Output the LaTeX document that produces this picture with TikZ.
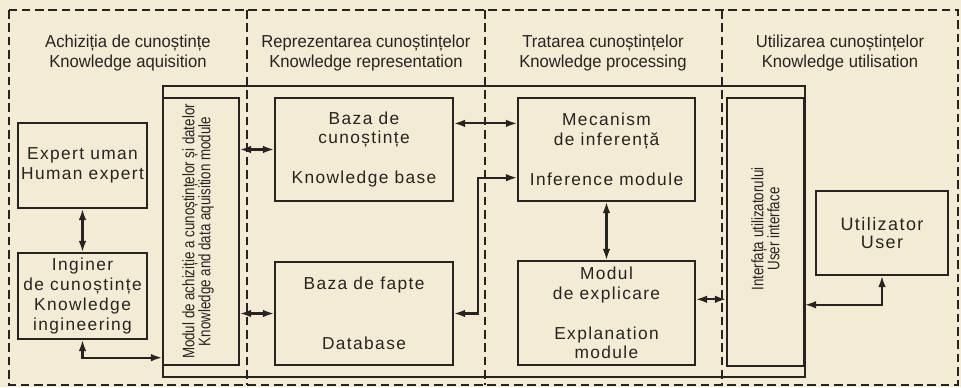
\documentclass[tikz,border=0pt]{standalone}
\usepackage{fontspec}
\setmainfont{Liberation Sans}
\newfontfamily\headfont[FakeStretch=0.96]{Liberation Sans}
\newfontfamily\boxfont[LetterSpace=8]{Liberation Sans}
\newfontfamily\vertfont[FakeStretch=0.8]{Liberation Sans}
\usetikzlibrary{arrows.meta,calc,positioning}
\definecolor{PaperCream}{HTML}{F4EBD5}
\definecolor{InkGrey}{HTML}{262422}
\begin{document}
\begin{tikzpicture}[x=0.75pt, y=-0.75pt, line join=miter,
  blok/.style={draw=InkGrey, line width=1.1pt, inner sep=0pt, align=center, text=InkGrey,
    font=\boxfont\fontsize{13}{14.8}\selectfont},
  heading/.style={align=center, text=InkGrey, font=\headfont\fontsize{13}{15}\selectfont},
  vlabel/.style={rotate=90, align=center, text=InkGrey, font=\vertfont\fontsize{12.5}{12}\selectfont},
  dbl/.style={{Latex[length=3mm,width=2mm]}-{Latex[length=3mm,width=2mm]}, line width=1.6pt, draw=InkGrey},
  divider/.style={draw=InkGrey, line width=0.9pt, dash pattern=on 6.5pt off 3.5pt}]
\fill[PaperCream] (0,0) rectangle (961,387);
\useasboundingbox (0,0) rectangle (961,387);
\draw[divider] (9,10) rectangle (958,385);
\draw[divider] (247,10) -- (247,385);
\draw[divider] (485,10) -- (485,385);
\draw[divider] (722,10) -- (722,385);
\node[heading] (h1) at (128,53) {Achiziția de cunoștințe\\Knowledge aquisition};
\node[heading] (h2) at (366,53) {Reprezentarea cunoștințelor\\Knowledge representation};
\node[heading] (h3) at (603,53) {Tratarea cunoștințelor\\Knowledge processing};
\node[heading] (h4) at (840,53) {Utilizarea cunoștințelor\\Knowledge utilisation};
\draw[InkGrey, line width=1.1pt] (163,86) rectangle (805,377);
\node[blok, minimum width=96.75pt, minimum height=63.75pt] (expert) at (82.5,165.5) {Expert uman\\Human expert};
\node[blok, minimum width=96.75pt, minimum height=64.5pt] (inginer) at (82.5,296) {Inginer\\de cunoștințe\\Knowledge\\ingineering};
\node[blok, minimum width=57pt, minimum height=200.25pt] (achiz) at (201,231.5) {};
\node[vlabel] (achiztxt) at (198,231.5) {Modul de achiziție a cunoștințelor și datelor\\Knowledge and data aquisition module};
\node[blok, minimum width=133.5pt, minimum height=77.25pt] (bazacun) at (364,149.5) {Baza de\\cunoștințe\\[15pt]Knowledge base};
\node[blok, minimum width=133.5pt, minimum height=77.25pt] (bazafapte) at (364,313.5) {Baza de fapte\\[30pt]Database};
\node[blok, minimum width=132.75pt, minimum height=77.25pt] (mecanism) at (606.5,149.5) {Mecanism\\de inferență\\[15pt]Inference module};
\node[blok, minimum width=132.75pt, minimum height=78pt] (explic) at (606.5,313) {Modul\\de explicare\\[15pt]Explanation\\module};
\node[blok, minimum width=57.75pt, minimum height=201pt] (interfata) at (765.5,232) {};
\node[vlabel] (interfatatxt) at (765.5,229) {Interfața utilizatorului\\User interface};
\node[blok, minimum width=99pt, minimum height=63pt, font=\boxfont\fontsize{13.5}{13}\selectfont] (user) at (882,233) {Utilizator\\User};
\coordinate (k1) at ($(bazacun.north east)!.25!(bazacun.south east)$);
\coordinate (k2) at ($(mecanism.north west)!.77!(mecanism.south west)$);
\coordinate (k3) at ($(explic.north east)!.37!(explic.south east)$);
\coordinate (k4) at ($(interfata.north east)!.77!(interfata.south east)$);
\coordinate (k5) at ($(achiz.north west)!.97!(achiz.south west)$);
\draw[dbl] (expert.south) -- (inginer.north);
\draw[dbl] (inginer.south) |- (k5);
\draw[dbl] (achiz.east |- bazacun.west) -- (bazacun.west);
\draw[dbl] (achiz.east |- bazafapte.west) -- (bazafapte.west);
\draw[dbl] (k1) -- (k1 -| mecanism.west);
\draw[dbl] (bazafapte.east) -- ++(24,0) |- (k2);
\draw[dbl] (mecanism.south) -- (explic.north);
\draw[dbl] (k3) -- (k3 -| interfata.west);
\draw[dbl] (user.south) |- (k4);
\end{tikzpicture}
\end{document}
